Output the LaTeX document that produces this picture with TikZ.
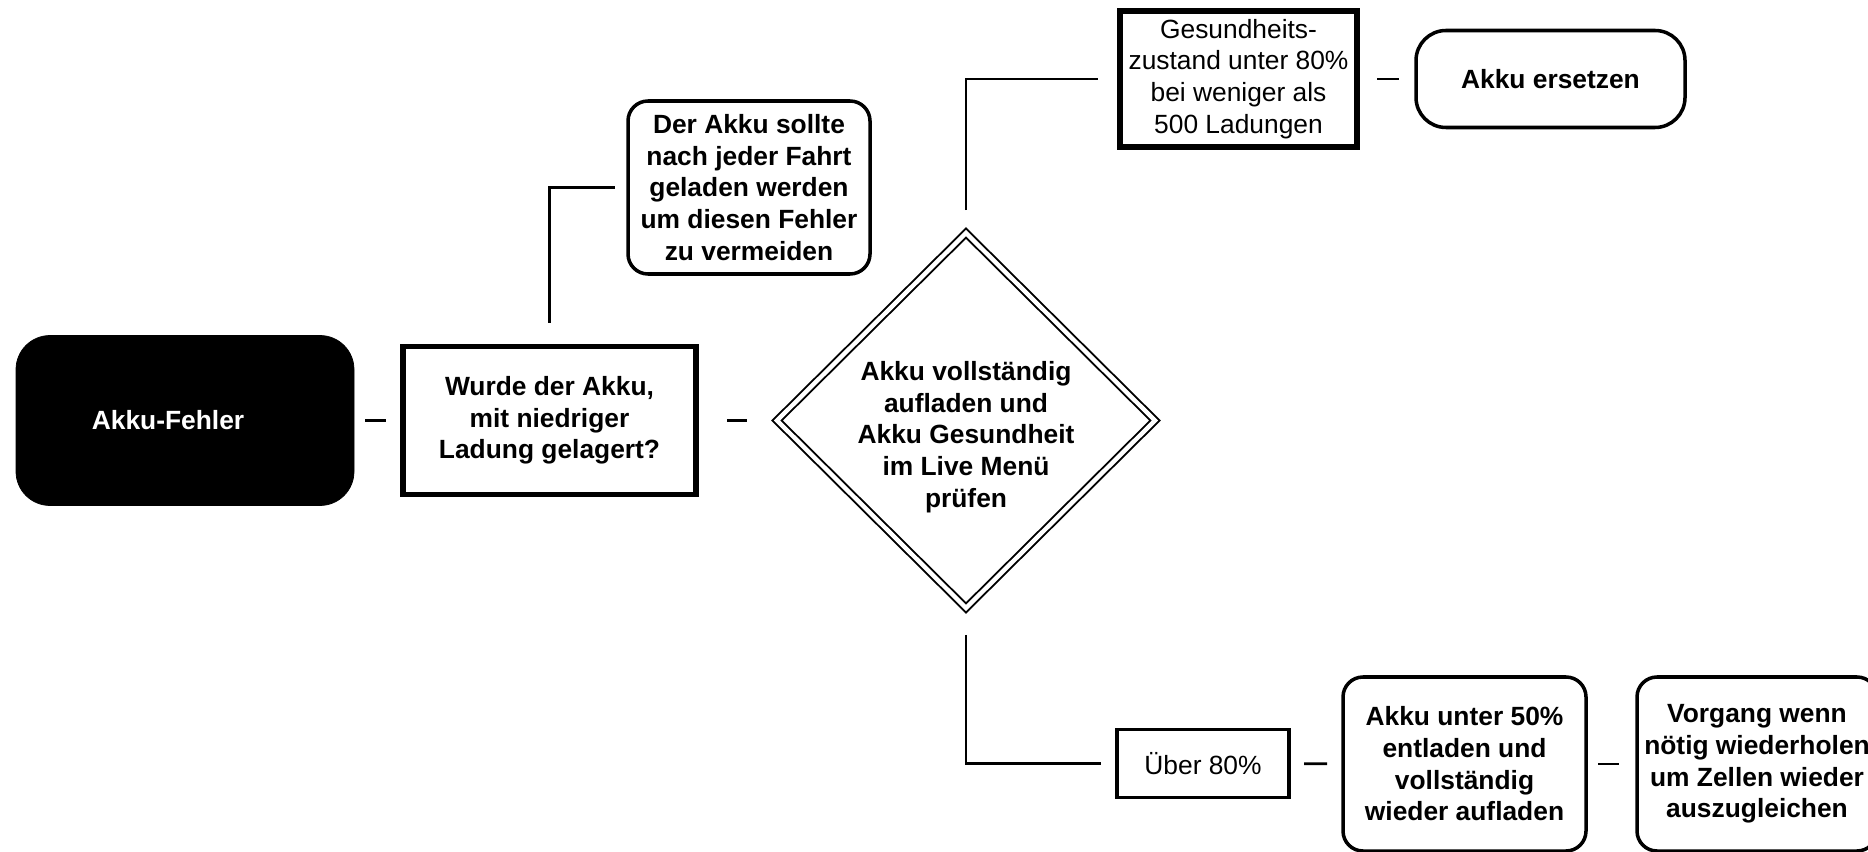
\documentclass[tikz,border=0pt]{standalone}
\usepackage{fontspec}
\setmainfont{Liberation Sans}
\usetikzlibrary{shapes.geometric}

\begin{document}
\begin{tikzpicture}[
    every node/.style={align=center, inner sep=0pt, outer sep=0pt,
      font=\fontsize{15}{18}\selectfont},
    bold/.style={font=\fontsize{15}{18}\selectfont\bfseries},
    startbox/.style={bold, draw=black, fill=black, text=white, rounded corners=0.68cm},
    heavybox/.style={draw, line width=3.4pt},
    roundbox/.style={bold, draw, line width=2pt, rounded corners=0.4cm},
    thinbox/.style={draw, line width=1.9pt},
    decision/.style={bold, shape=diamond, draw, double, line width=1.1pt, double distance=2.5pt},
    link/.style={line width=1.6pt},
    elbow/.style={line width=1.2pt}
  ]
  \useasboundingbox (0, 0) rectangle (37.36, 17.02);
  \clip (0, 0) rectangle (37.36, 17.02);

  % main row
  \node[startbox, minimum width=6.76cm, minimum height=3.4cm] (fehler) at (3.70, 8.61) {Akku-Fehler\kern0.68cm};
  \node[heavybox, bold, minimum width=5.86cm, minimum height=2.96cm] (lagerung) at (10.99, 8.61)
    {Wurde der Akku,\\ mit niedriger\\ Ladung gelagert?};
  \node[decision, minimum width=7.56cm, minimum height=7.26cm] (check) at (19.32, 8.61)
    {\raisebox{-0.34cm}[\height][\depth]{\begin{tabular}{@{}c@{}}Akku vollständig\\ aufladen und\\ Akku Gesundheit\\ im Live Menü\\ prüfen\end{tabular}}};

  % upper branches
  \node[roundbox, minimum width=4.84cm, minimum height=3.46cm] (tipp) at (14.98, 13.27)
    {Der Akku sollte\\ nach jeder Fahrt\\ geladen werden\\ um diesen Fehler\\ zu vermeiden};
  \node[heavybox, minimum width=4.74cm, minimum height=2.72cm] (gesund) at (24.77, 15.44)
    {Gesundheits-\\ zustand unter 80\%\\ bei weniger als\\ 500 Ladungen};
  \node[roundbox, rounded corners=0.6cm, minimum width=5.38cm, minimum height=1.94cm] (ersetzen) at (31.01, 15.44)
    {Akku ersetzen};

  % lower branch
  \node[thinbox, minimum width=3.44cm, minimum height=1.36cm] (ueber) at (24.06, 1.75) {Über 80\%};
  \node[roundbox, minimum width=4.86cm, minimum height=3.48cm] (entladen) at (29.29, 1.74)
    {Akku unter 50\%\\ entladen und\\ vollständig\\ wieder aufladen};
  \node[roundbox, minimum width=4.80cm, minimum height=3.48cm] (wiederholen) at (35.14, 1.74)
    {Vorgang wenn\\ nötig wiederholen\\ um Zellen wieder\\ auszugleichen};

  \draw[link, shorten <=0.22cm, shorten >=0.34cm] (fehler) -- (lagerung);
  \draw[link, shorten <=0.62cm, shorten >=0.60cm] (lagerung) -- (check);
  \draw[link, shorten <=0.40cm, shorten >=0.34cm] (gesund) -- (ersetzen);
  \draw[link, shorten <=0.30cm, shorten >=0.32cm] (ueber) -- (entladen);
  \draw[link, shorten <=0.24cm, shorten >=0.36cm] (entladen) -- (wiederholen);

  \draw[elbow, shorten <=0.48cm, shorten >=0.26cm] (lagerung) |- (tipp);
  \draw[elbow, shorten <=0.46cm, shorten >=0.44cm] (check) |- (gesund);
  \draw[elbow, shorten <=0.54cm, shorten >=0.32cm] (check) |- (ueber);
\end{tikzpicture}
\end{document}
